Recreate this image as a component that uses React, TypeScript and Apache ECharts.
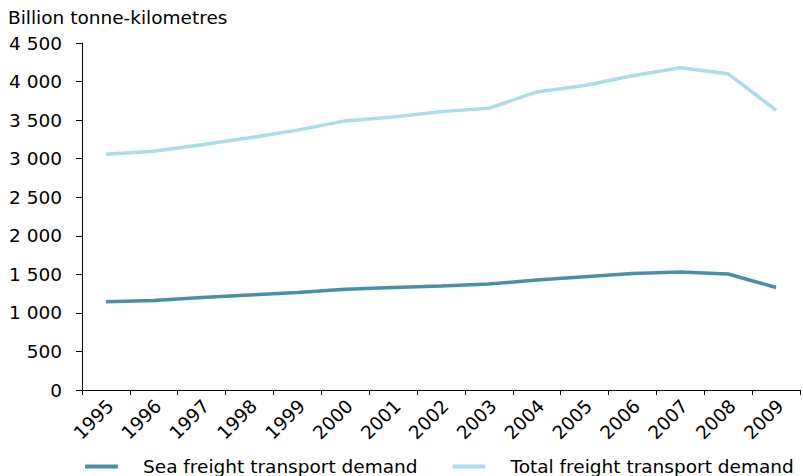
import React, { useEffect, useRef } from "react";
import * as echarts from "echarts";

const years = ["1995","1996","1997","1998","1999","2000","2001","2002","2003","2004","2005","2006","2007","2008","2009"];
const seaFreight = [1144, 1162, 1198, 1231, 1265, 1308, 1330, 1350, 1375, 1426, 1470, 1512, 1530, 1504, 1330];
const totalFreight = [3058, 3095, 3180, 3270, 3370, 3490, 3540, 3610, 3654, 3865, 3950, 4075, 4178, 4100, 3628];
const yTicks = { min: 0, max: 4500, interval: 500 };

const FONT = "DejaVu Sans";
const FS = 18.5;

function fmt(v: number): string {
  const s = String(Math.round(v));
  return s.replace(/\B(?=(\d{3})+(?!\d))/g, " ");
}

export default function App() {
  const ref = useRef<HTMLDivElement>(null);
  useEffect(() => {
    if (!ref.current) return;
    const chart = echarts.init(ref.current, undefined, { renderer: "svg" });
    chart.setOption({
      animation: false,
      textStyle: { fontFamily: FONT, color: "#000" },
      title: {
        text: "Billion tonne-kilometres",
        left: 3,
        top: 3,
        textStyle: { fontFamily: FONT, fontSize: FS, fontWeight: "normal", color: "#000" },
      },
      grid: { left: 82, right: 3, top: 43, bottom: 86, containLabel: false },
      legend: {
        bottom: -5,
        left: 80,
        icon: "roundRect",
        itemWidth: 33,
        itemHeight: 4,
        itemGap: 35,
        textStyle: { fontFamily: FONT, fontSize: FS, color: "#000", padding: [0, 0, 0, 20] },
        data: ["Sea freight transport demand", "Total freight transport demand"],
      },
      xAxis: {
        type: "category",
        data: years,
        boundaryGap: true,
        axisLine: { lineStyle: { color: "#000", width: 1 } },
        axisTick: { show: true, length: 5, lineStyle: { color: "#000" } },
        axisLabel: {
          rotate: 45,
          fontFamily: FONT,
          fontSize: FS,
          color: "#000",
          margin: 17,
          interval: 0,
          padding: [0, -6, 0, 0],
        },
        splitLine: { show: false },
      },
      yAxis: {
        type: "value",
        min: yTicks.min,
        max: yTicks.max,
        interval: yTicks.interval,
        axisLine: { show: true, lineStyle: { color: "#000", width: 1 } },
        axisTick: { show: true, length: 6, lineStyle: { color: "#000" } },
        axisLabel: { fontFamily: FONT, fontSize: FS, color: "#000", margin: 20, formatter: (v: number) => fmt(v) },
        splitLine: { show: false },
      },
      series: [
        {
          name: "Sea freight transport demand",
          type: "line",
          data: seaFreight,
          symbol: "none",
          lineStyle: { color: "#4A8FA3", width: 3.5 },
          itemStyle: { color: "#4A8FA3" },
        },
        {
          name: "Total freight transport demand",
          type: "line",
          data: totalFreight,
          symbol: "none",
          lineStyle: { color: "#A9DEE6", width: 3.5 },
          itemStyle: { color: "#A9DEE6" },
        },
      ],
    });
    return () => chart.dispose();
  }, []);
  return <div ref={ref} style={{ width: 803, height: 476, position: "absolute", left: 0, top: 0 }} />;
}
